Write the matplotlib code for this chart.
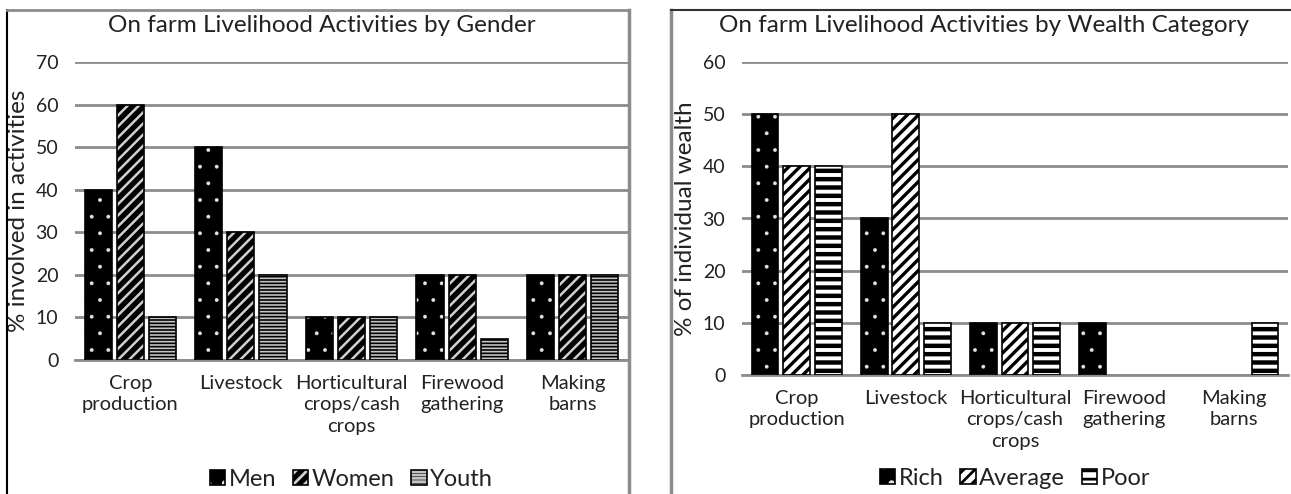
import matplotlib
matplotlib.use("Agg")
import matplotlib.pyplot as plt
from matplotlib.lines import Line2D
from matplotlib.patches import Patch
import numpy as np

plt.rcParams["font.family"] = ["Lato", "DejaVu Sans"]
plt.rcParams["hatch.linewidth"] = 2.0

# data
activities = ["Crop\nproduction", "Livestock", "Horticultural\ncrops/cash\ncrops",
              "Firewood\ngathering", "Making\nbarns"]

gender_groups = ["Men", "Women", "Youth"]
men = [40, 50, 10, 20, 20]
women = [60, 30, 10, 20, 20]
youth = [10, 20, 10, 5, 20]

wealth_groups = ["Rich", "Average", "Poor"]
rich = [50, 30, 10, 10, 0]
average = [40, 50, 10, 0, 0]
poor = [40, 10, 10, 0, 10]

GRID = "#8c8c8c"
TXT = "#222222"

# (fill, hatch colour, hatch, hatch linewidth) per series
gender_styles = [("black", "#e6e6e6", ".", 0.3),
                 ("black", "#d0d0d0", "///", 1.8),
                 ("black", "#c4c4c4", "-----", 1.2)]
wealth_styles = [("black", "#e6e6e6", ".", 0.3),
                 ("white", "black", "///", 2.4),
                 ("white", "black", "--", 3.2)]


def set_hlw(patch, lw):
    if hasattr(patch, "set_hatch_linewidth"):
        patch.set_hatch_linewidth(lw)


def layered(face, hcol, hatch, hlw):
    hp = Patch(facecolor="none", edgecolor=hcol, hatch=hatch, linewidth=0)
    set_hlw(hp, hlw)
    return (Patch(facecolor=face, edgecolor=face, linewidth=0), hp,
            Patch(facecolor="none", edgecolor="black", linewidth=1.2))


def draw_panel(ax, series, names, styles, ymax, ylabel, leg_y):
    x = np.arange(len(activities))
    step, width = 0.29, 0.245
    for i, (vals, (face, hcol, hatch, hlw)) in enumerate(zip(series, styles)):
        vals = np.array(vals)
        keep = vals > 0
        pos = (x + (i - 1) * step)[keep]
        v = vals[keep]
        ax.bar(pos, v, width, color=face, edgecolor=face, linewidth=0, zorder=2)
        bars = ax.bar(pos, v, width, color="none", edgecolor=hcol, hatch=hatch,
                      linewidth=0, zorder=3)
        for b in bars:
            set_hlw(b, hlw)
        ax.bar(pos, v, width, color="none", edgecolor="black", linewidth=1.2, zorder=4)

    ax.set_xlim(-0.5, len(activities) - 0.5)
    ax.set_ylim(0, ymax)
    ax.set_yticks(range(0, ymax + 1, 10))
    ax.yaxis.grid(True, color=GRID, linewidth=2)
    ax.set_axisbelow(True)
    for s in ["top", "right", "left"]:
        ax.spines[s].set_visible(False)
    ax.spines["bottom"].set_color(GRID)
    ax.spines["bottom"].set_linewidth(2)
    ax.tick_params(axis="both", length=0, labelsize=14, colors=TXT)
    ax.tick_params(axis="y", pad=12)
    ax.tick_params(axis="x", pad=11)
    ax.set_xticks(x)
    ax.set_xticklabels(activities, fontsize=14.5, linespacing=1.3)
    ax.set_ylabel(ylabel, fontsize=17.5, labelpad=5, color=TXT)

    handles = [layered(*st) for st in styles]
    ax.legend(handles, names, loc="center", bbox_to_anchor=(0.5, leg_y),
              ncol=3, frameon=False, fontsize=17, handlelength=0.65, handleheight=0.65,
              handletextpad=0.15, columnspacing=0.7, labelcolor=TXT)


fig = plt.figure(figsize=(12.91, 4.94), dpi=100)
W, H = 1291, 494

ax1 = fig.add_axes([75 / W, 134 / H, 553 / W, 298 / H])
draw_panel(ax1, [men, women, youth], gender_groups, gender_styles, 70,
           "% involved in activities", -0.40)

ax2 = fig.add_axes([742 / W, 119 / H, 546 / W, 313 / H])
draw_panel(ax2, [rich, average, poor], wealth_groups, wealth_styles, 60,
           "% of individual wealth", -0.33)

# titles centred on each panel frame
fig.text(322 / W, 1 - 26 / H, "On farm Livelihood Activities by Gender",
         ha="center", va="center", fontsize=17.5, color=TXT)
fig.text(984 / W, 1 - 26 / H, "On farm Livelihood Activities by Wealth Category",
         ha="center", va="center", fontsize=17.5, color=TXT)


# panel frames
def fline(xs, ys, color, lw=1.5):
    fig.add_artist(Line2D([v / W for v in xs], [1 - v / H for v in ys],
                          color=color, linewidth=lw, transform=fig.transFigure))


fline([7, 7], [10, 494], "black")
fline([7, 629], [10, 10], GRID, 2)
fline([629, 629], [10, 494], GRID, 2.5)
fline([671, 671], [10, 494], GRID, 2.5)
fline([671, 1291], [10, 10], "#333333", 1.5)

fig.savefig("out.png", dpi=100)
